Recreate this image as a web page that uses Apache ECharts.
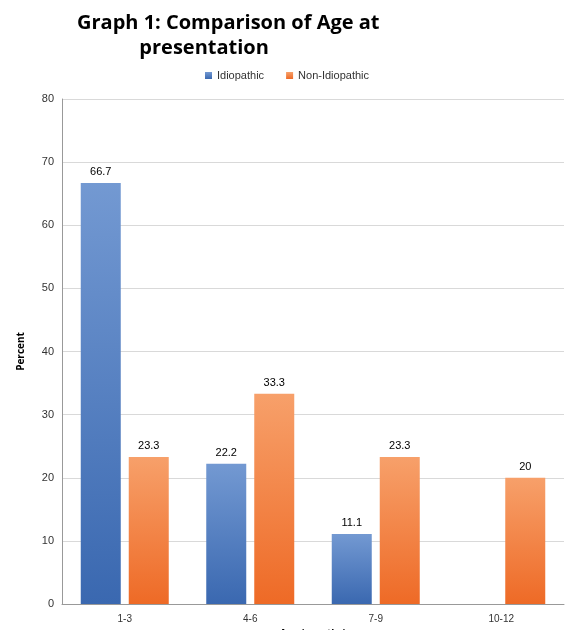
<!DOCTYPE html>
<html><head><meta charset="utf-8">
<script src="https://cdn.jsdelivr.net/npm/echarts@6/dist/echarts.min.js"></script>
<style>html,body{margin:0;padding:0;background:#fff}#c{width:568px;height:630px}</style>
</head><body><div id="c"></div>
<script>
const categories = ['1-3','4-6','7-9','10-12'];
const idiopathic = [66.7, 22.2, 11.1, null];
const nonIdiopathic = [23.3, 33.3, 23.3, 20];
const chart = echarts.init(document.getElementById('c'));
const grad = (a,b)=>new echarts.graphic.LinearGradient(0,0,0,1,[{offset:0,color:a},{offset:1,color:b}]);
chart.setOption({
  animation:false,
  title:{text:'Graph 1: Comparison of Age at\n            presentation',left:72,top:6,
    textStyle:{fontFamily:'Open Sans',fontWeight:'bold',fontSize:20,lineHeight:25,color:'#000'}},
  legend:{top:65,left:200,itemWidth:7,itemHeight:7,itemGap:22,icon:'rect',
    textStyle:{fontFamily:'Liberation Sans',fontSize:11,color:'#333'}},
  grid:{left:62,right:4,top:99,bottom:26,containLabel:false,outerBoundsMode:'none'},
  xAxis:{type:'category',data:categories,name:'Age (months)',nameLocation:'middle',nameGap:4,
    nameTextStyle:{fontFamily:'Open Sans',fontWeight:'bold',fontSize:10,color:'#000'},
    axisTick:{show:false},axisLine:{lineStyle:{color:'#999'}},
    axisLabel:{fontFamily:'Liberation Sans',fontSize:10,color:'#333',margin:10}},
  yAxis:{type:'value',min:0,max:80,interval:10,name:'Percent',nameLocation:'middle',nameGap:36,
    nameTextStyle:{fontFamily:'Open Sans',fontWeight:'bold',fontSize:10,color:'#000'},
    axisLine:{show:true,lineStyle:{color:'#999'}},
    axisLabel:{fontFamily:'Liberation Sans',fontSize:11,color:'#333'},
    splitLine:{lineStyle:{color:'#d9d9d9'}}},
  series:[
    {name:'Idiopathic',type:'bar',data:idiopathic,barWidth:40,barGap:'20%',
     itemStyle:{color:grad('#7399d2','#3a68b0')},
     label:{show:true,position:'top',fontFamily:'Liberation Sans',fontSize:11,color:'#000'}},
    {name:'Non-Idiopathic',type:'bar',data:nonIdiopathic,barWidth:40,
     itemStyle:{color:grad('#f7a06a','#ee6a26')},
     label:{show:true,position:'top',fontFamily:'Liberation Sans',fontSize:11,color:'#000'}}
  ]
});
</script></body></html>
